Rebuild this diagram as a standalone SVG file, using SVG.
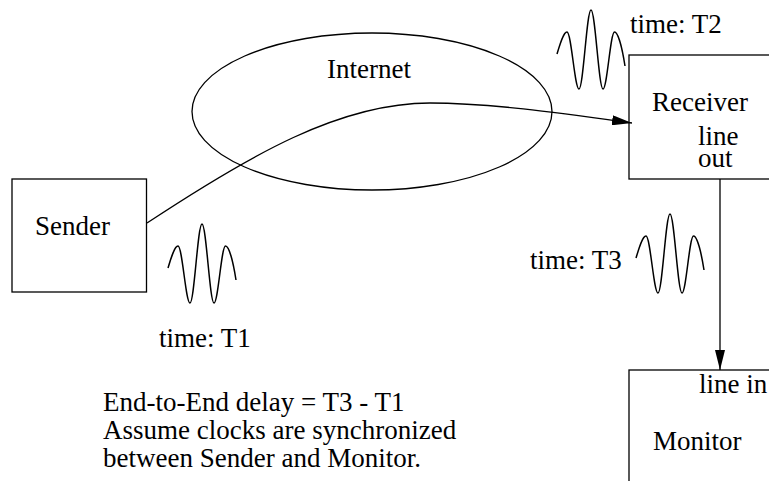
<svg xmlns="http://www.w3.org/2000/svg" width="769" height="481" viewBox="0 0 769 481">
  <style>
    .box { fill: none; stroke: #000; stroke-width: 1.3; }
    .wire { fill: none; stroke: #000; stroke-width: 1.3; }
    .wave { fill: none; stroke: #000; stroke-width: 1.5; }
    text { font-family: "Liberation Serif", "Times New Roman", serif; font-size: 27px; fill: #000; }
  </style>
  <defs>
    <marker id="arrow" markerUnits="userSpaceOnUse" markerWidth="20" markerHeight="10" refX="20" refY="5" orient="auto" viewBox="0 0 20 10">
      <path d="M0,0 L20,5 L0,10 z" fill="#000"/>
    </marker>
    <path id="wavelet" class="wave" d="M-34,44 C-31,34 -27.5,22 -24,22 C-19.7,22 -16.3,79 -12,79 C-7.7,79 -4.3,0 0,0 C4.3,0 7.7,79 12,79 C16.1,79 19.4,22 23.5,22 C27,22 31,37 34,56"/>
  </defs>
  <rect width="769" height="481" fill="#fff"/>

  <g id="internet">
    <ellipse class="box" cx="372" cy="111.5" rx="180" ry="78.5"/>
    <text x="327" y="78">Internet</text>
  </g>

  <g id="sender">
    <rect class="box" x="12" y="179" width="134.5" height="113"/>
    <text x="35" y="235">Sender</text>
  </g>

  <g id="receiver">
    <rect class="box" x="629" y="55" width="200" height="124"/>
    <text x="652" y="111">Receiver</text>
    <text x="698" y="145">line<tspan x="698" dy="21.5">out</tspan></text>
  </g>

  <g id="monitor">
    <rect class="box" x="629" y="370" width="200" height="200"/>
    <text x="699" y="393">line in</text>
    <text x="653" y="450">Monitor</text>
  </g>

  <g id="connectors">
    <path class="wire" d="M147,223 C250,155 340,103 430,103 C490,103 560,113 632,123" marker-end="url(#arrow)"/>
    <line class="wire" x1="720" y1="179" x2="720" y2="370" marker-end="url(#arrow)"/>
  </g>

  <g id="signal-t1">
    <use href="#wavelet" transform="translate(202,224)"/>
    <text x="159" y="347">time: T1</text>
  </g>

  <g id="signal-t2">
    <use href="#wavelet" transform="translate(591,10)"/>
    <text x="630" y="33">time: T2</text>
  </g>

  <g id="signal-t3">
    <use href="#wavelet" transform="translate(670,214)"/>
    <text x="530" y="269">time: T3</text>
  </g>

  <g id="notes">
    <text x="103" y="411">End-to-End delay = T3 - T1</text>
    <text x="103" y="439">Assume clocks are synchronized</text>
    <text x="103" y="467">between Sender and Monitor.</text>
  </g>
</svg>
